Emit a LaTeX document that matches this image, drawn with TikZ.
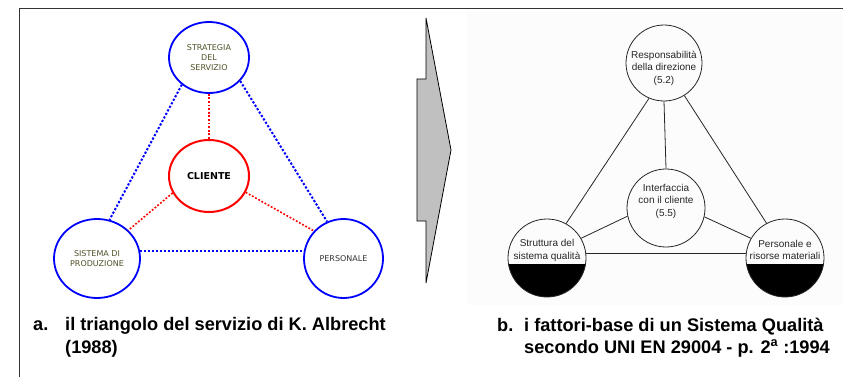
\documentclass[tikz,border=0pt]{standalone}
\usepackage{fontspec}
\setmainfont{Liberation Sans}
\newfontfamily\sansnarrow{DejaVu Sans}
\usetikzlibrary{shapes.geometric}
\definecolor{olivetxt}{RGB}{80,80,40}
\definecolor{arrowgray}{RGB}{192,192,192}

\begin{document}
\begin{tikzpicture}[x=1pt,y=-1pt,every node/.style={inner sep=0pt},
            ring/.style={ellipse,draw=blue,line width=1.8pt},
            bluedots/.style={blue,line width=2pt,dash pattern=on 2.2pt off 1.8pt},
            reddots/.style={red,line width=1.6pt,dash pattern=on 1.8pt off 1.8pt},
            ltext/.style={font=\sansnarrow\fontsize{8}{10}\selectfont,align=center},
            qring/.style={circle,draw=black!85,line width=0.8pt,minimum size=78pt},
            qtext/.style={font=\fontsize{10}{12.5}\selectfont,align=center,text=black!85},
            halfblack/.style={path picture={\fill[black]
              ([yshift=-6pt]path picture bounding box.west) rectangle
              (path picture bounding box.south east);}},
            captxt/.style={font=\fontsize{18.2}{22}\selectfont\bfseries,anchor=base west}]
            \useasboundingbox (0,0) rectangle (843,377);
            \draw[black!80,line width=1pt] (19,377) -- (19,9) -- (843,9);
            % triangolo di Albrecht
            \node[ring,minimum width=80pt,minimum height=71pt,ltext,text=olivetxt]
              (strat) at (209,57.5) {STRATEGIA\\DEL\\SERVIZIO};
            \node[ring,draw=red,line width=2pt,minimum width=80pt,minimum height=72pt,
              font=\sansnarrow\bfseries\fontsize{9.5}{11}\selectfont] (cli) at (209,176) {CLIENTE};
            \node[ring,minimum width=86pt,minimum height=79pt,ltext,text=olivetxt]
              (prod) at (97,258.5) {SISTEMA DI\\PRODUZIONE};
            \node[ring,minimum size=79pt,ltext,text=black!80] (pers) at (343.5,258.5) {PERSONALE};
            \draw[bluedots] (strat.-135) -- (prod.72);
            \draw[bluedots] (strat.-37) -- (pers.114);
            \draw[bluedots] (prod.10) -- (prod.10 -| pers.west);
            \draw[reddots] (strat.south) -- (cli.north);
            \draw[reddots] (cli.-155) -- (prod.42);
            \draw[reddots] (cli.-24) -- (pers.137);
            % freccia
            \filldraw[fill=arrowgray,draw=black,line width=0.8pt]
              (417,79) -- (426,79) -- (426,18) -- (451,150) -- (426,283)
              -- (426,221) -- (417,221) -- cycle;
            % fattori-base UNI EN 29004
            \fill[black!1] (467,11) rectangle (843,305);
            \node[qring,minimum size=76pt] (resp) at (664,63) {};
            \node[qtext] (resp-t) at (664,68) {Responsabilità\\della direzione\\(5.2)};
            \node[qring] (iface) at (666,208) {};
            \node[qtext] (iface-t) at (666,201) {Interfaccia\\con il cliente\\(5.5)};
            \node[qring,halfblack] (sq) at (547,258) {};
            \node[qtext] (sq-t) at (547,250.5) {Struttura del\\sistema qualità};
            \node[qring,halfblack] (res) at (785,258) {};
            \node[qtext] (res-t) at (785,250) {Personale e\\risorse materiali};
            \draw[black!85,line width=0.8pt] (resp.-113) -- (sq.61);
            \draw[black!85,line width=0.8pt] (resp.-58) -- (res.118);
            \draw[black!85,line width=0.8pt] (resp.south) -- (iface.north);
            \draw[black!85,line width=0.8pt] (iface.-168) -- (sq.30);
            \draw[black!85,line width=0.8pt] (iface.-13) -- (res.150);
            \draw[black!85,line width=0.8pt] (sq.6) -- (sq.6 -| res.west);
            % didascalie
            \node[captxt] (capa) at (33,330) {a.};
            \node[captxt] (capa1) at (65,330) {il triangolo del servizio di K. Albrecht};
            \node[captxt] (capa2) at (65,353) {(1988)};
            \node[captxt] (capb) at (497,331) {b.};
            \node[captxt] (capb1) at (524,331) {i fattori-base di un Sistema Qualità};
            \node[captxt] (capb2) at (524,353) {secondo UNI EN 29004 - p. 2\textsuperscript{a} :1994};
        \end{tikzpicture}
\end{document}
